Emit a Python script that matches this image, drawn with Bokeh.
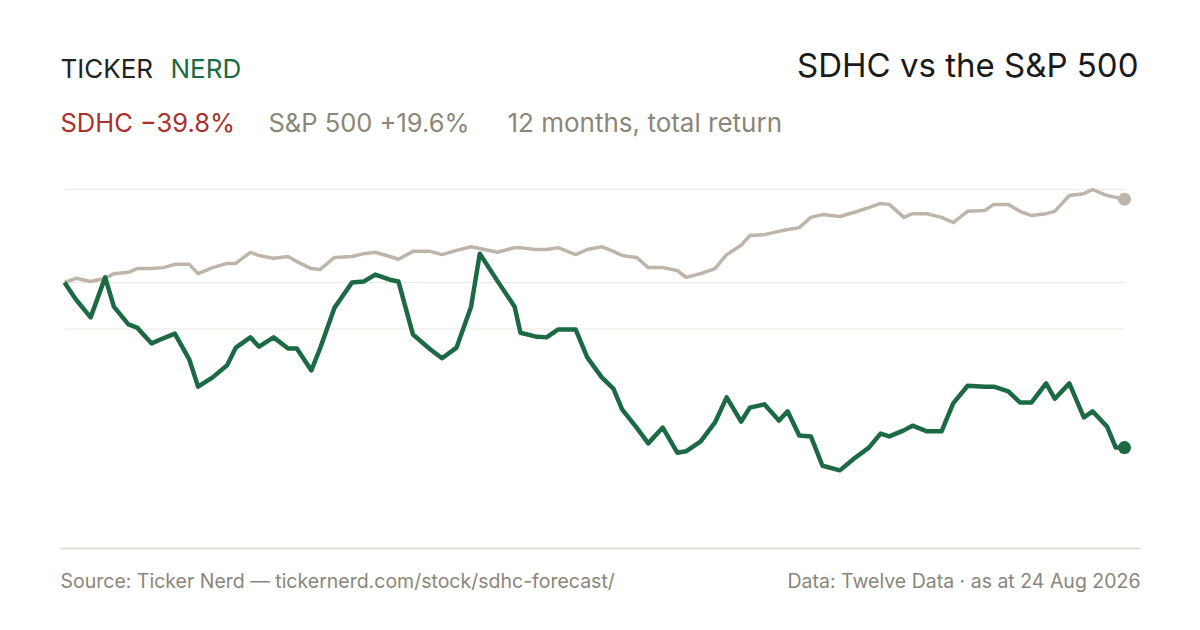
from bokeh.plotting import figure
from bokeh.models import Range1d, Label
from bokeh.embed import file_html
from bokeh.resources import INLINE

# ---- data (days since start of the 12-month window, total return %) ----
day = [0, 4, 9, 14, 17, 22, 25, 30, 34, 38,
       43, 46, 51, 56, 59, 64, 67, 72, 77, 80,
       85, 88, 93, 99, 103, 107, 112, 115, 120, 126,
       130, 135, 140, 143, 149, 155, 157, 162, 166, 170,
       176, 180, 185, 189, 192, 197, 201, 206, 211, 214,
       219, 224, 228, 233, 236, 241, 246, 249, 253, 257,
       261, 267, 272, 277, 281, 284, 289, 292, 297, 302,
       306, 311, 317, 320, 325, 329, 333, 338, 341, 346,
       351, 354, 359, 362, 365]

sdhc = [0.0, -3.7, -7.5, 1.1, -5.2, -9.0, -9.7, -13.1, -12.0, -11.0,
        -16.6, -22.4, -20.4, -17.8, -14.0, -11.8, -13.8, -11.8, -14.2, -14.2,
        -18.9, -14.2, -5.4, 0.0, 0.2, 1.7, 0.6, 0.2, -11.2, -14.4,
        -16.3, -14.0, -5.2, 6.2, 0.4, -5.2, -10.8, -11.6, -11.8, -10.1,
        -10.1, -16.1, -20.4, -22.8, -27.3, -31.2, -34.6, -31.2, -36.6, -36.3,
        -34.2, -30.1, -24.7, -29.9, -26.9, -26.2, -29.7, -27.7, -32.9, -33.1,
        -39.4, -40.4, -37.8, -35.5, -32.5, -33.1, -31.8, -30.8, -32.0, -32.0,
        -26.0, -22.2, -22.4, -22.4, -23.4, -25.8, -25.8, -21.7, -25.0, -21.7,
        -29.0, -27.7, -31.0, -35.5, -35.5]

spx = [0.0, 0.9, 0.2, 0.9, 1.9, 2.2, 3.0, 3.0, 3.2, 3.9,
       3.9, 1.9, 3.2, 4.1, 4.1, 6.5, 5.8, 5.2, 5.6, 4.5,
       3.0, 2.8, 5.4, 5.6, 6.2, 6.5, 5.6, 5.0, 6.7, 6.7,
       6.0, 6.9, 7.7, 7.3, 6.5, 7.5, 7.5, 7.1, 7.1, 7.5,
       6.0, 7.1, 7.7, 6.7, 5.8, 5.4, 3.2, 3.2, 2.6, 1.1,
       1.9, 3.0, 6.0, 8.0, 10.1, 10.3, 11.0, 11.4, 11.8, 14.0,
       14.6, 14.2, 15.1, 16.1, 17.0, 16.8, 14.0, 14.8, 14.8, 14.0,
       12.9, 15.3, 15.5, 16.8, 16.8, 15.3, 14.4, 14.8, 15.3, 18.7,
       19.1, 20.0, 18.7, 18.3, 17.9]

grid_vals = [20, 0, -10]

title = "SDHC vs the S&P 500"
brand_a, brand_b = "TICKER", "NERD"
leg_sdhc = "SDHC \u221239.8%"
leg_spx = "S&P 500 +19.6%"
leg_note = "12 months, total return"
foot_left = "Source: Ticker Nerd \u2014 tickernerd.com/stock/sdhc-forecast/"
foot_right = "Data: Twelve Data \u00b7 as at 24 Aug 2026"

# ---- geometry ----
W, H = 1184, 614
X0_PX, X1_PX = 64, 1124
ZERO_PY = 282
PX_PER_PCT = 4.65

ppd = (X1_PX - X0_PX) / (day[-1] - day[0])
x_start = day[0] - X0_PX / ppd
x_end = x_start + W / ppd
y_end = ZERO_PY / PX_PER_PCT
y_start = y_end - H / PX_PER_PCT


def dx(px):
    return x_start + px / ppd


def dy(py):
    return y_end - py / PX_PER_PCT


GREEN = "#1B6A43"
GREY_LINE = "#BDB5A9"
GREY_TEXT = "#8B8678"
RED = "#A8312C"
FONT = "Inter"

p = figure(width=W, height=H, x_range=Range1d(x_start, x_end),
           y_range=Range1d(y_start, y_end), output_backend="svg",
           toolbar_location=None, x_axis_location=None, y_axis_location=None,
           min_border=0, outline_line_color=None,
           background_fill_color="white", border_fill_color="white")
p.xgrid.visible = False
p.ygrid.visible = False

# gridlines spanning the data range
p.segment(x0=[day[0]] * len(grid_vals), x1=[day[-1]] * len(grid_vals),
          y0=grid_vals, y1=grid_vals, line_color="#ECE8E1", line_width=1.2)

# bottom rule
p.segment(x0=[dx(60)], x1=[dx(1140)], y0=[dy(548)], y1=[dy(548)],
          line_color="#DCD7CE", line_width=1.5)

p.line(day, spx, line_color=GREY_LINE, line_width=3.5, line_join="round")
p.line(day, sdhc, line_color=GREEN, line_width=4.5, line_join="round")
p.scatter([day[-1]], [spx[-1]], size=13, fill_color=GREY_LINE, line_color=None)
p.scatter([day[-1]], [sdhc[-1]], size=13, fill_color=GREEN, line_color=None)


def label(text, px, py, size, color, align="left"):
    # py is the wanted baseline; compensate for how the baseline is drawn
    p.add_layout(Label(x=dx(px), y=dy(py - 0.38 * size), text=text,
                       text_font=FONT, text_font_size=f"{size}px",
                       text_color=color, text_align=align,
                       text_baseline="alphabetic"))


label(brand_a, 60, 78, 26, "#222222")
label(brand_b, 170, 78, 26, GREEN)
label(title, 1138, 77, 33, "#1A1A1A", "right")
label(leg_sdhc, 60, 132, 25.5, RED)
label(leg_spx, 268, 132, 25.5, GREY_TEXT)
label(leg_note, 507, 132, 26, GREY_TEXT)
label(foot_left, 60, 588, 19.5, GREY_TEXT)
label(foot_right, 1140, 588, 19.5, GREY_TEXT, "right")

open("out.html", "w").write(file_html(p, INLINE))
